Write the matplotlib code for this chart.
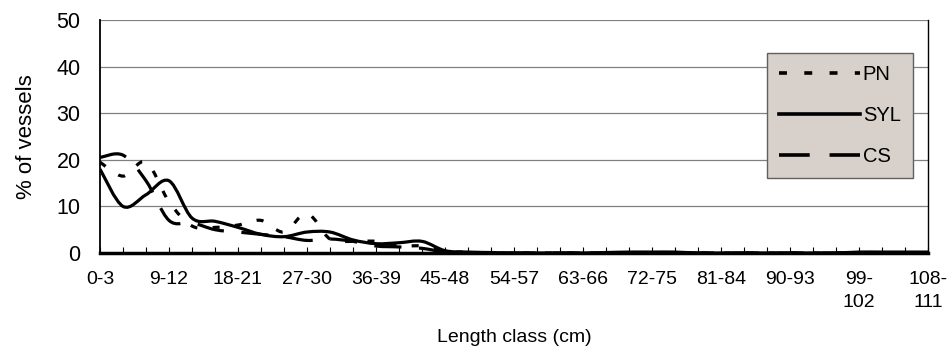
import matplotlib
matplotlib.use("Agg")
import matplotlib.pyplot as plt
from matplotlib.path import Path
from matplotlib.patches import PathPatch
from matplotlib.lines import Line2D

plt.rcParams['font.family'] = ['Liberation Sans', 'DejaVu Sans']
plt.rcParams['font.size'] = 14

# length classes (cm), 3 cm wide
categories = [
    "0-3", "3-6", "6-9", "9-12", "12-15", "15-18", "18-21", "21-24", "24-27",
    "27-30", "30-33", "33-36", "36-39", "39-42", "42-45", "45-48", "48-51",
    "51-54", "54-57", "57-60", "60-63", "63-66", "66-69", "69-72", "72-75",
    "75-78", "78-81", "81-84", "84-87", "87-90", "90-93", "93-96", "96-99",
    "99-102", "102-105", "105-108", "108-111",
]
tick_labels = ["0-3", "9-12", "18-21", "27-30", "36-39", "45-48", "54-57",
               "63-66", "72-75", "81-84", "90-93", "99-\n102", "108-\n111"]

# % of vessels per length class
pn = [19.5, 16.5, 19.5, 11.0, 5.8, 5.5, 6.0, 7.0, 4.5, 8.5, 3.0, 2.5, 2.5,
      1.5, 1.5, 0.3, 0.2, 0.0, 0.0, 0.0, 0.0, 0.0, 0.0, 0.0, 0.0, 0.0, 0.0,
      0.0, 0.0, 0.0, 0.0, 0.0, 0.0, 0.0, 0.0, 0.0, 0.0]
syl = [18.0, 10.0, 12.5, 15.5, 7.5, 6.8, 5.5, 4.0, 3.5, 4.5, 4.5, 2.8, 2.0,
       2.2, 2.5, 0.5, 0.2, 0.1, 0.0, 0.0, 0.0, 0.0, 0.1, 0.2, 0.2, 0.2, 0.0,
       0.0, 0.0, 0.0, 0.0, 0.0, 0.0, 0.2, 0.2, 0.2, 0.2]
cs = [20.5, 21.0, 15.5, 7.0, 6.5, 5.0, 4.5, 4.0, 3.5, 2.7, 3.0, 2.5, 1.5,
      1.3, 1.0, 0.2, 0.0, 0.0, 0.0, 0.0, 0.0, 0.0, 0.0, 0.0, 0.0, 0.0, 0.0,
      0.0, 0.0, 0.0, 0.0, 0.0, 0.0, 0.0, 0.0, 0.0, 0.0]


def smooth_path(ys):
    # excel style smoothed line: cubic bezier through every point
    n = len(ys)
    pts = [(float(i), float(y)) for i, y in enumerate(ys)]
    verts = [pts[0]]
    codes = [Path.MOVETO]
    for i in range(n - 1):
        p0 = pts[i - 1] if i > 0 else pts[i]
        p1 = pts[i]
        p2 = pts[i + 1]
        p3 = pts[i + 2] if i + 2 < n else pts[i + 1]
        c1 = (p1[0] + (p2[0] - p0[0]) / 6, p1[1] + (p2[1] - p0[1]) / 6)
        c2 = (p2[0] - (p3[0] - p1[0]) / 6, p2[1] - (p3[1] - p1[1]) / 6)
        verts += [c1, c2, p2]
        codes += [Path.CURVE4] * 3
    return Path(verts, codes)


lw = 2.3
styles = {
    "PN": (0, (2.2, 4.8)),
    "SYL": "solid",
    "CS": (0, (8.5, 5.5)),
}

fig = plt.figure(figsize=(9.52, 3.6), dpi=100)
ax = fig.add_axes([100 / 952, 1 - 253 / 360, 828 / 952, 233 / 360])

handles = []
for name, ys in [("PN", pn), ("SYL", syl), ("CS", cs)]:
    patch = PathPatch(smooth_path(ys), fill=False, edgecolor="black",
                      linewidth=lw, linestyle=styles[name], zorder=3)
    patch.set_capstyle("butt")
    ax.add_patch(patch)
    handles.append(Line2D([], [], color="black", lw=lw + 0.3,
                          linestyle=styles[name]))

ax.set_xlim(0, len(categories) - 1)
ax.set_ylim(0, 50)
ax.set_yticks(range(0, 51, 10))
ax.yaxis.grid(True, color="#808080", linewidth=0.9)
ax.set_axisbelow(True)

ax.set_xticks(range(len(categories)))
labels = [""] * len(categories)
for k, lab in enumerate(tick_labels):
    labels[k * 3] = lab
ax.set_xticklabels(labels, va="top", linespacing=1.45, fontsize=14)
ax.tick_params(axis="x", direction="in", length=4, width=0.8, pad=13)
ax.tick_params(axis="y", length=0, pad=14, labelsize=15.5)

ax.spines["top"].set_visible(False)
ax.spines["left"].set_linewidth(1.3)
ax.spines["right"].set_linewidth(1.0)
ax.spines["bottom"].set_linewidth(2.5)

ax.set_ylabel("% of vessels", labelpad=14, fontsize=16)
ax.set_xlabel("Length class (cm)", labelpad=13, fontsize=14)

leg = ax.legend(handles, ["PN", "SYL", "CS"], loc="upper left",
                bbox_to_anchor=(767 / 952, 1 - 53 / 360),
                bbox_transform=fig.transFigure, fancybox=False, framealpha=1,
                facecolor="#D8D0CA", edgecolor="#606060", handlelength=4.0,
                handletextpad=0.15, labelspacing=1.1, borderpad=0.6,
                borderaxespad=0, fontsize=14.5)
leg.get_frame().set_linewidth(1.0)

fig.savefig("out.png", dpi=100)
